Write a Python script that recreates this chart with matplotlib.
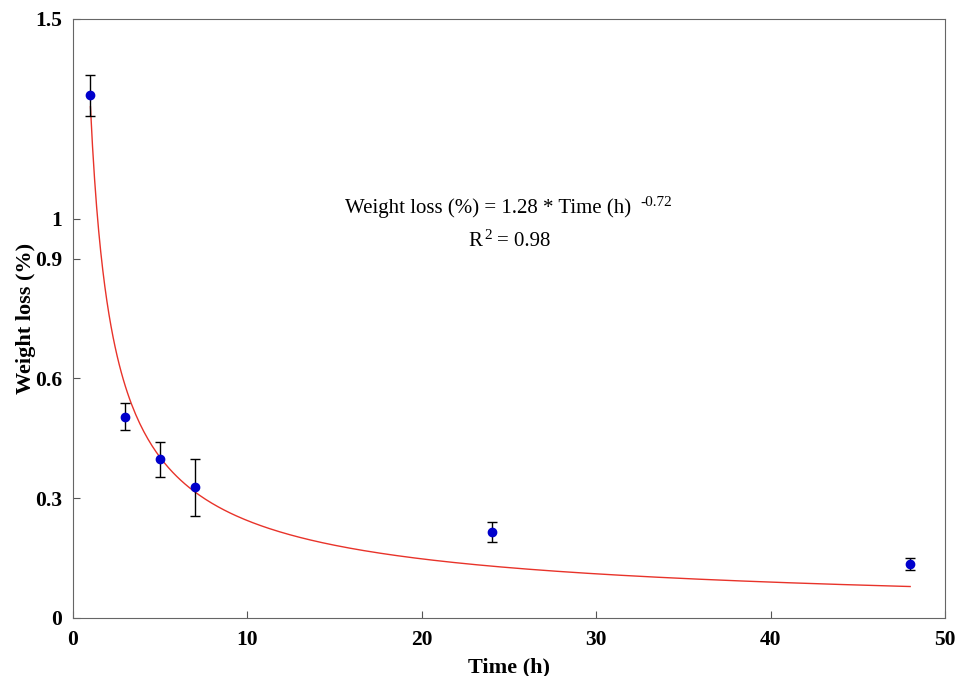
import matplotlib.pyplot as plt
import numpy as np

plt.rcParams['font.family'] = ['Liberation Serif', 'DejaVu Serif']

# measured weight loss
time_h = [1, 3, 5, 7, 24, 48]
loss = [1.309, 0.504, 0.397, 0.327, 0.215, 0.134]
err = [0.051, 0.034, 0.044, 0.071, 0.025, 0.015]

# power fit
coef = 1.28
expo = -0.72
t_fit = np.linspace(1, 48, 400)
y_fit = coef * t_fit ** expo

x_ticks = [0, 10, 20, 30, 40, 50]
y_ticks = [0, 0.3, 0.6, 0.9, 1, 1.5]

fig = plt.figure(figsize=(9.57, 6.76), dpi=100)
ax = fig.add_axes([0.0763, 0.0858, 0.9112, 0.8861])

ax.plot(t_fit, y_fit, color='#e8332a', lw=1)
ax.errorbar(time_h, loss, yerr=err, fmt='o', color='#0000cc', ms=6,
            ecolor='black', elinewidth=1, capsize=3.5, capthick=1)

ax.set_xlim(0, 50)
ax.set_ylim(0, 1.5)
ax.set_xticks(x_ticks)
ax.set_yticks(y_ticks)
ax.set_yticklabels(['0', '0.3', '0.6', '0.9', '1', '1.5'])
ax.tick_params(direction='in', length=5, labelsize=15.5, color='#555555')
ax.tick_params(axis='x', pad=9)
ax.tick_params(axis='y', pad=8)
for lab in ax.get_xticklabels() + ax.get_yticklabels():
    lab.set_fontweight('bold')
for s in ax.spines.values():
    s.set_color('#666666')

ax.set_xlabel('Time (h)', fontsize=16, fontweight='bold', labelpad=5)
ax.set_ylabel('Weight loss (%)', fontsize=16, fontweight='bold', labelpad=-1)

# fit equation, superscripts placed next to the base text
eq = ax.text(15.6, 1.026, 'Weight loss (%%) = %.2f * Time (h)' % coef,
             ha='left', va='center', fontsize=15)
ax.annotate('%.2f' % expo, xy=(1, 0.5), xycoords=eq, xytext=(9, 6),
            textcoords='offset pixels', ha='left', va='center', fontsize=11)
r = ax.text(22.65, 0.944, 'R', ha='left', va='center', fontsize=15)
sq = ax.annotate('2', xy=(1, 0.5), xycoords=r, xytext=(2, 6),
                 textcoords='offset pixels', ha='left', va='center', fontsize=11)
ax.annotate('= 0.98', xy=(1, 0.5), xycoords=sq, xytext=(5, -6),
            textcoords='offset pixels', ha='left', va='center', fontsize=15)

fig.savefig('out.png', dpi=100)
